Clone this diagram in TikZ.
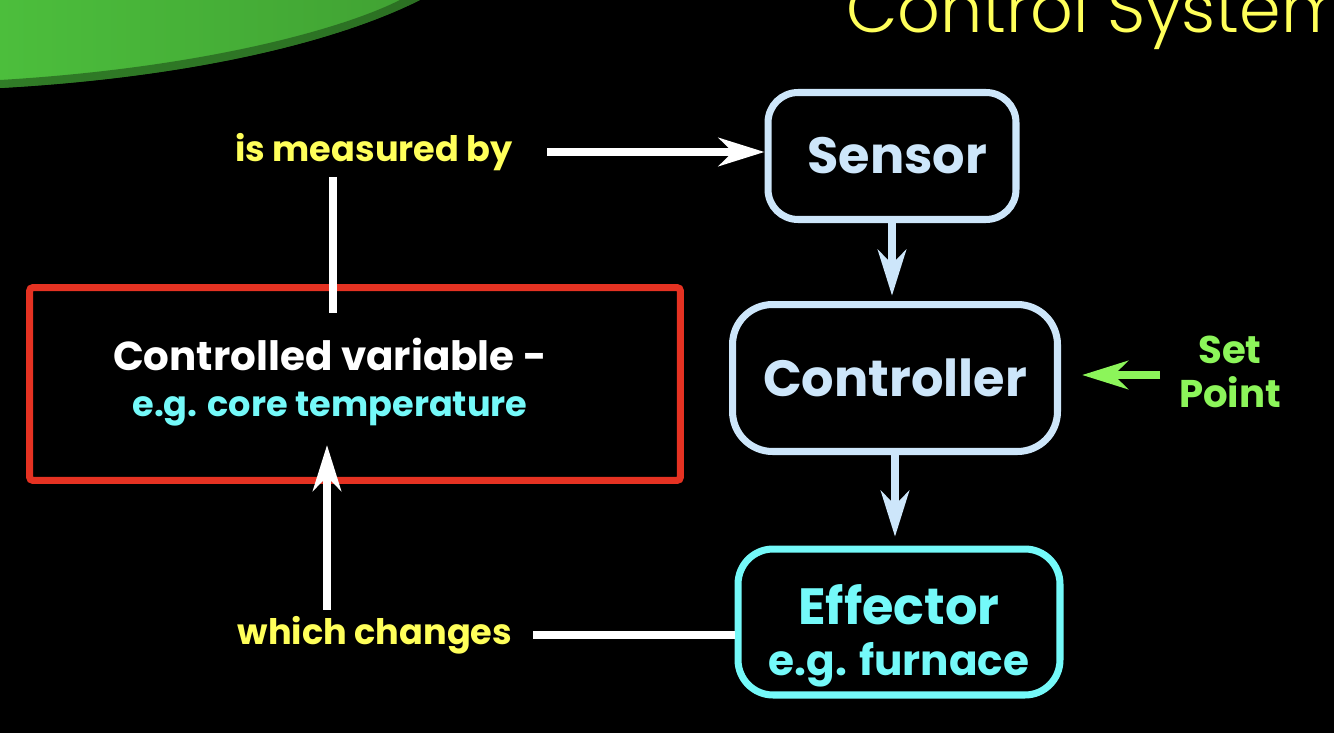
\documentclass[tikz,border=0pt]{standalone}
\usepackage{fontspec}
\setmainfont{Poppins}
\newfontfamily\thinfont{Poppins Light}
\usetikzlibrary{arrows.meta,positioning}
\definecolor{skyline}{RGB}{205,230,250}
\definecolor{aqua}{RGB}{116,249,249}
\definecolor{boxred}{RGB}{229,50,34}
\definecolor{lemon}{RGB}{255,255,90}
\definecolor{lime}{RGB}{140,245,90}
\definecolor{leaf}{RGB}{76,190,60}
\definecolor{leafdark}{RGB}{30,80,25}

\begin{document}
\begin{tikzpicture}[x=0.02cm,y=-0.02cm,>={Stealth[length=26pt,width=16pt,inset=8pt]},
  wline/.style={white,line width=4.5pt},
  tag/.style={font=\fontsize{20}{24}\selectfont\bfseries,text=lemon},
  blockbox/.style={draw,line width=4pt,rounded corners=0.6cm,font=\fontsize{29}{34}\selectfont\bfseries}]
\fill[black] (0,0) rectangle (1334,733);
\useasboundingbox (0,0) rectangle (1334,733);
\begin{scope}
\clip (0,0) rectangle (1334,733);
\shade[left color=leaf,right color=leaf!85!black] (0,0) -- (420,0) .. controls (330,45) and (180,78) .. (0,88) -- cycle;
\fill[leafdark,opacity=.6] (420,0) .. controls (330,45) and (180,78) .. (0,88) -- (0,80) .. controls (200,68) and (340,30) .. (400,0) -- cycle;
\node[anchor=base west,text=lemon,font=\thinfont\fontsize{38}{44}\selectfont] (title) at (840,33) {Control System};
\end{scope}
% boxes
\node[blockbox,skyline,minimum width=4.96cm,minimum height=2.54cm] (sensor) at (892,156) {\hspace*{6pt}Sensor};
\node[blockbox,skyline,minimum width=6.5cm,minimum height=2.94cm,rounded corners=0.8cm] (ctrl) at (895,378) {Controller};
\node[blockbox,aqua,minimum width=6.44cm,minimum height=2.92cm,rounded corners=0.7cm] (effector) at (899,622) {};
\node[align=center,text=aqua,font=\fontsize{29}{34}\selectfont\bfseries] (efftext) at (899,636) {Effector\\[-5pt]{\fontsize{24}{28}\selectfont e.g. furnace}};
\node[draw=boxred,line width=4pt,rounded corners=2pt,minimum width=13.02cm,minimum height=3.86cm] (cvar) at (355,384) {};
\node[align=center,text=white,font=\fontsize{23}{27}\selectfont\bfseries] (cvtext) at (330,382) {Controlled variable -\\[-1pt]\textcolor{aqua}{\fontsize{20}{24}\selectfont e.g. core temperature}};
% labels
\node[tag] (measured) at (374,152) {is measured by};
\node[tag] (changes) at (375,635) {which changes};
\node[align=center,text=lime,font=\fontsize{22}{25}\selectfont\bfseries] (setpt) at (1230,372) {Set\\Point};
\coordinate (upend) at (333,313);
\coordinate (uptip) at (327,445);
\coordinate (spfrom) at (1160,375);
% connectors
\draw[wline,->,shorten <=16pt] (measured.east) -- (measured.east -| sensor.west);
\draw[wline] (measured.south -| upend) -- (upend);
\draw[wline,->] (changes.north -| uptip) -- (uptip);
\draw[wline,shorten >=8pt] (effector.west |- changes.east) -- (changes.east);
\draw[skyline,line width=4.5pt,->,shorten >=3pt] (sensor.south) -- (sensor.south |- ctrl.north);
\draw[skyline,line width=4.5pt,->,shorten >=5pt] (ctrl.south) -- (ctrl.south |- effector.north);
\draw[lime,line width=5pt,->,shorten >=12pt] (spfrom) -- (spfrom -| ctrl.east);
\end{tikzpicture}
\end{document}
